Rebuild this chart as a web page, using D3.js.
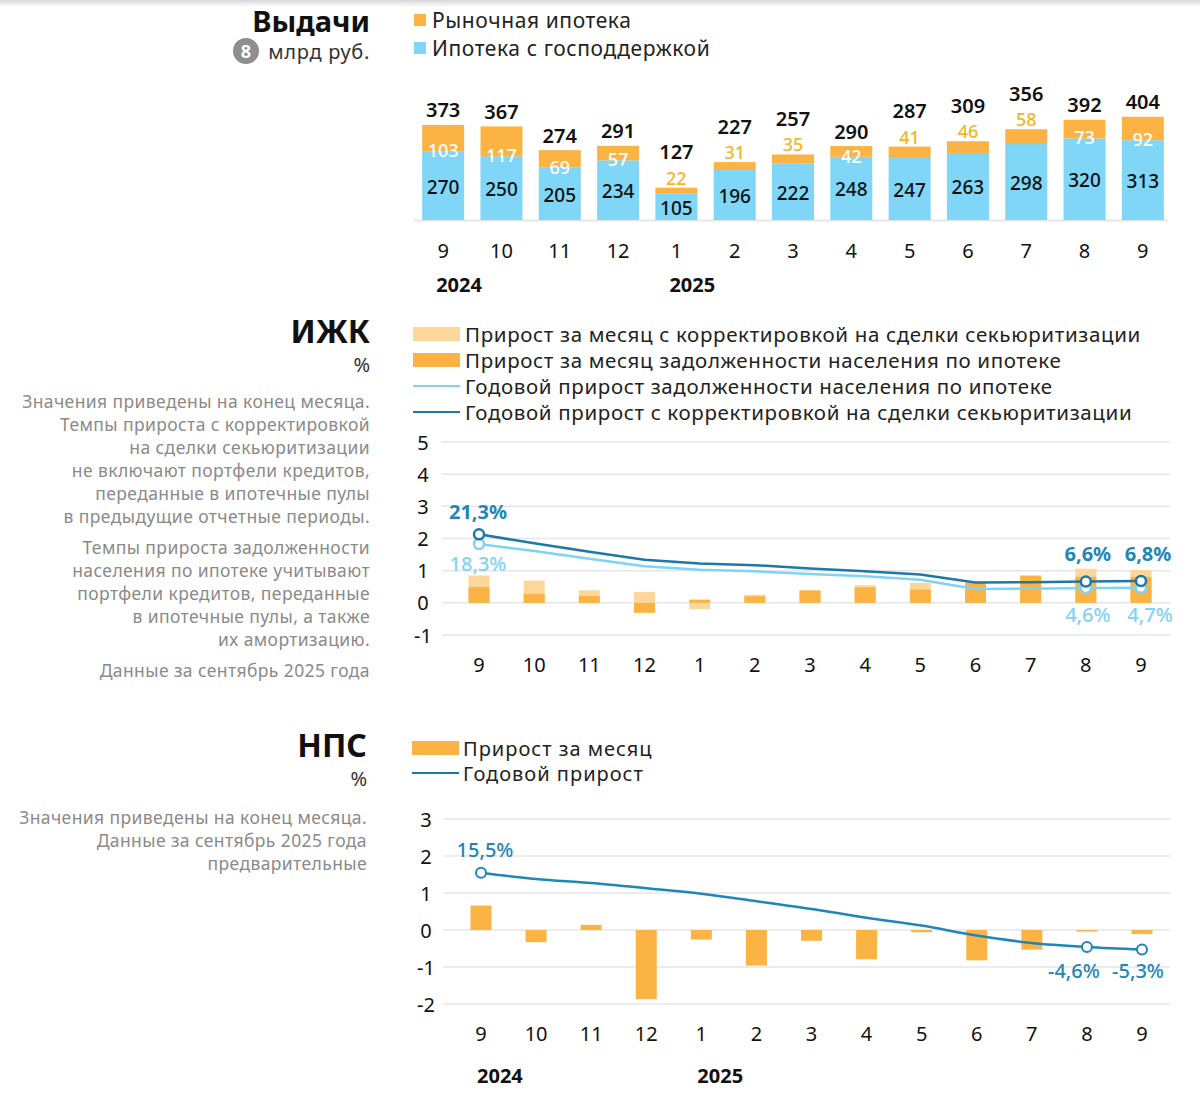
<!DOCTYPE html>
<html><head><meta charset="utf-8">
<script src="https://cdn.jsdelivr.net/npm/d3@7"></script>
<style>
html,body{margin:0;padding:0;background:#fff;}
svg{display:block;font-family:"Noto Sans","Open Sans",sans-serif;}
</style></head>
<body>
<svg id="c" width="1200" height="1097"></svg>
<script>
// ---------- DATA ----------
const months = ["9","10","11","12","1","2","3","4","5","6","7","8","9"];
const years = [{label:"2024", idx:0},{label:"2025", idx:4}];

// Выдачи, млрд руб.
const issueStateSupported = [270,250,205,234,105,196,222,248,247,263,298,320,313];
const issueMarket         = [103,117,69,57,22,31,35,42,41,46,58,73,92];
const issueTotal          = [373,367,274,291,127,227,257,290,287,309,356,392,404];

// ИЖК, %
const izhkMonthly     = [0.49,0.27,0.21,-0.31,0.10,0.20,0.38,0.48,0.41,0.64,0.85,0.81,0.81];
const izhkMonthlyAdj  = [0.85,0.69,0.39,0.34,-0.19,0.25,0.40,0.55,0.62,0.60,0.80,1.06,1.02];
const izhkAnnual      = [18.3,16.1,13.7,11.4,10.3,9.8,9.0,8.3,7.2,4.3,4.4,4.6,4.7];
const izhkAnnualAdj   = [21.3,18.5,15.9,13.4,12.2,11.7,10.7,9.8,8.8,6.3,6.4,6.6,6.8];
const izhkTicks = [5,4,3,2,1,0,-1];

// НПС, %
const npsMonthly = [0.66,-0.33,0.14,-1.87,-0.26,-0.96,-0.29,-0.79,-0.06,-0.82,-0.53,-0.04,-0.11];
const npsAnnual  = [15.5,13.8,12.7,11.3,9.8,7.8,5.7,3.3,1.2,-1.5,-3.5,-4.6,-5.3];
const npsTicks = [3,2,1,0,-1,-2];

// ---------- STYLE ----------
const ORANGE = "#fbb444", ORANGE_LIGHT = "#fdd79a", BLUE_BAR = "#7fd6f7";
const DARK_BLUE = "#1c78a8", LIGHT_BLUE = "#7fd3f3", LBL_BLUE = "#1f86b8";
const GRID = "#e6e6e6", GRAY_TXT = "#8a8a8a", BLACK = "#111";
const svg = d3.select("#c");
const fmt = v => d3.format(".1f")(v).replace(".", ",").replace("\u2212", "-") + "%";

// top shadow
const defs = svg.append("defs");
const g0 = defs.append("linearGradient").attr("id","sh").attr("x1",0).attr("x2",0).attr("y1",0).attr("y2",1);
g0.append("stop").attr("offset",0).attr("stop-color","#d8d8d8");
g0.append("stop").attr("offset",1).attr("stop-color","#ffffff");
svg.append("rect").attr("x",0).attr("y",0).attr("width",1200).attr("height",7).attr("fill","url(#sh)");

function rtext(x, y, t, size, opts={}) {
  return svg.append("text").attr("x",x).attr("y",y).attr("text-anchor",opts.anchor||"end")
    .attr("dominant-baseline","central").attr("font-size",size)
    .attr("letter-spacing",opts.ls||0)
    .attr("font-weight",opts.weight||400).attr("fill",opts.fill||BLACK).text(t);
}

// ================= ВЫДАЧИ =================
rtext(370, 20, "Выдачи", 29, {weight:700});
svg.append("circle").attr("cx",246).attr("cy",51).attr("r",13).attr("fill","#8e8e8e");
rtext(246, 51, "8", 18, {anchor:"middle", weight:700, fill:"#fff"});
rtext(370, 51, "млрд руб.", 20, {fill:"#333", ls:0.7});

// legend
[[ORANGE,"Рыночная ипотека",20],[BLUE_BAR,"Ипотека с господдержкой",48]].forEach(([c,t,y])=>{
  svg.append("rect").attr("x",414).attr("y",y-6).attr("width",12).attr("height",12).attr("fill",c);
  rtext(432, y, t, 21, {anchor:"start", fill:"#222", ls:0.6});
});

const x1 = d3.scaleBand().domain(d3.range(months.length)).range([414,1172]).paddingInner(0.28).paddingOuter(0.14);
const y1 = d3.scaleLinear().domain([0,404]).range([220,117]);
svg.append("line").attr("x1",414).attr("x2",1168).attr("y1",220.5).attr("y2",220.5).attr("stroke",GRID).attr("stroke-width",2);

const gI = svg.append("g");
months.forEach((m,i)=>{
  const x = x1(i), w = x1.bandwidth(), cx = x + w/2;
  const yB = y1(issueStateSupported[i]), yT = y1(issueStateSupported[i]+issueMarket[i]);
  gI.append("rect").attr("x",x).attr("y",yB).attr("width",w).attr("height",y1(0)-yB).attr("fill",BLUE_BAR);
  gI.append("rect").attr("x",x).attr("y",yT).attr("width",w).attr("height",yB-yT).attr("fill",ORANGE);
  gI.append("text").attr("x",cx).attr("y",(yB+y1(0))/2+1).attr("text-anchor","middle").attr("dominant-baseline","central")
    .attr("font-size",19).attr("font-weight",500).attr("fill",BLACK).text(issueStateSupported[i]);
});
// market labels: inside (white) for some, above (orange) for the rest
const insideIdx = new Set([0,1,2,3,7,11,12]);
months.forEach((m,i)=>{
  const x = x1(i), w = x1.bandwidth(), cx = x + w/2;
  const yB = y1(issueStateSupported[i]), yT = y1(issueStateSupported[i]+issueMarket[i]);
  let ly, col;
  if (insideIdx.has(i)) { ly = Math.max((yT+yB)/2, yB-1); col = "#fff"; }
  else { ly = yT - 10; col = "#f4b526"; }
  gI.append("text").attr("x",cx).attr("y",ly).attr("text-anchor","middle").attr("dominant-baseline","central")
    .attr("font-size",18).attr("font-weight",500).attr("fill",col).text(issueMarket[i]);
  const ty = insideIdx.has(i) ? yT - 15 : yT - 36;
  gI.append("text").attr("x",cx).attr("y",ty).attr("text-anchor","middle").attr("dominant-baseline","central")
    .attr("font-size",20).attr("font-weight",600).attr("fill",BLACK).text(issueTotal[i]);
  gI.append("text").attr("x",cx).attr("y",250).attr("text-anchor","middle").attr("dominant-baseline","central")
    .attr("font-size",20).attr("fill",BLACK).text(m);
});
years.forEach(yr=>{
  svg.append("text").attr("x",x1(yr.idx)+x1.bandwidth()/2-7).attr("y",284).attr("dominant-baseline","central")
    .attr("font-size",20).attr("font-weight",700).attr("fill",BLACK).text(yr.label);
});

// ================= ИЖК =================
rtext(370, 330, "ИЖК", 32, {weight:700});
rtext(370, 364, "%", 20, {fill:"#333"});
const izhkNote = [
  [401,"Значения приведены на конец месяца."],
  [424,"Темпы прироста с корректировкой"],
  [447,"на сделки секьюритизации"],
  [470,"не включают портфели кредитов,"],
  [493,"переданные в ипотечные пулы"],
  [516,"в предыдущие отчетные периоды."],
  [547,"Темпы прироста задолженности"],
  [570,"населения по ипотеке учитывают"],
  [593,"портфели кредитов, переданные"],
  [616,"в ипотечные пулы, а также"],
  [639,"их амортизацию."],
  [670,"Данные за сентябрь 2025 года"]];
izhkNote.forEach(([y,t])=>rtext(370,y,t,17.5,{fill:GRAY_TXT, ls:0.4}));

const izhkLegend = [
  ["rect",ORANGE_LIGHT,"Прирост за месяц с корректировкой на сделки секьюритизации",334],
  ["rect",ORANGE,"Прирост за месяц задолженности населения по ипотеке",360],
  ["line",LIGHT_BLUE,"Годовой прирост задолженности населения по ипотеке",386],
  ["line",DARK_BLUE,"Годовой прирост с корректировкой на сделки секьюритизации",412]];
izhkLegend.forEach(([k,c,t,y])=>{
  if(k==="rect") svg.append("rect").attr("x",413).attr("y",y-7).attr("width",47).attr("height",14).attr("fill",c);
  else svg.append("line").attr("x1",413).attr("x2",460).attr("y1",y).attr("y2",y).attr("stroke",c).attr("stroke-width",2);
  rtext(465, y, t, 20.5, {anchor:"start", fill:"#222", ls:0.65});
});

const x2 = d3.scalePoint().domain(d3.range(months.length)).range([479,1141]);
const y2 = d3.scaleLinear().domain([-1,5]).range([635,442]);
const g2 = svg.append("g");
izhkTicks.forEach(t=>{
  g2.append("line").attr("x1",442).attr("x2",1170).attr("y1",y2(t)).attr("y2",y2(t)).attr("stroke",GRID).attr("stroke-width",1.5);
  g2.append("text").attr("x",423).attr("y",y2(t)).attr("text-anchor","middle").attr("dominant-baseline","central")
    .attr("font-size",20).attr("fill",BLACK).text(t);
});
const bw2 = 21;
months.forEach((m,i)=>{
  const cx = x2(i);
  const a = izhkMonthlyAdj[i], b = izhkMonthly[i];
  g2.append("rect").attr("x",cx-bw2/2).attr("y",y2(Math.max(0,a))).attr("width",bw2).attr("height",Math.abs(y2(a)-y2(0))).attr("fill",ORANGE_LIGHT);
  g2.append("rect").attr("x",cx-bw2/2).attr("y",y2(Math.max(0,b))).attr("width",bw2).attr("height",Math.abs(y2(b)-y2(0))).attr("fill",ORANGE);
  g2.append("text").attr("x",cx).attr("y",664).attr("text-anchor","middle").attr("dominant-baseline","central")
    .attr("font-size",20).attr("fill",BLACK).text(m);
});
const line2 = d3.line().x((d,i)=>x2(i)).y(d=>y2(d/10));
[[izhkAnnual,LIGHT_BLUE],[izhkAnnualAdj,DARK_BLUE]].forEach(([arr,c])=>{
  g2.append("path").attr("d",line2(arr)).attr("fill","none").attr("stroke",c).attr("stroke-width",2.5);
});
[[izhkAnnual,LIGHT_BLUE],[izhkAnnualAdj,DARK_BLUE]].forEach(([arr,c])=>{
  [0,11,12].forEach(i=>{
    g2.append("circle").attr("cx",x2(i)).attr("cy",y2(arr[i]/10)).attr("r",5).attr("fill","#fff").attr("stroke",c).attr("stroke-width",2.5);
  });
});
// value labels
g2.append("text").attr("x",x2(0)-1).attr("y",511).attr("text-anchor","middle").attr("dominant-baseline","central")
  .attr("font-size",20).attr("font-weight",700).attr("fill",LBL_BLUE).text(fmt(izhkAnnualAdj[0]));
g2.append("text").attr("x",x2(0)-1).attr("y",563).attr("text-anchor","middle").attr("dominant-baseline","central")
  .attr("font-size",20).attr("font-weight",500).attr("fill",LIGHT_BLUE).text(fmt(izhkAnnual[0]));
[11,12].forEach(i=>{
  g2.append("text").attr("x",x2(i)+2+(i-11)*5).attr("y",553).attr("text-anchor","middle").attr("dominant-baseline","central")
    .attr("font-size",20).attr("font-weight",700).attr("fill",LBL_BLUE).text(fmt(izhkAnnualAdj[i]));
  g2.append("text").attr("x",x2(i)+2+(i-11)*7).attr("y",614).attr("text-anchor","middle").attr("dominant-baseline","central")
    .attr("font-size",20).attr("font-weight",500).attr("fill",LIGHT_BLUE).text(fmt(izhkAnnual[i]));
});

// ================= НПС =================
rtext(367, 744, "НПС", 32, {weight:700});
rtext(367, 778, "%", 20, {fill:"#333"});
[[817,"Значения приведены на конец месяца."],[840,"Данные за сентябрь 2025 года"],[863,"предварительные"]]
  .forEach(([y,t])=>rtext(367,y,t,17.5,{fill:GRAY_TXT, ls:0.4}));

svg.append("rect").attr("x",412).attr("y",741).attr("width",47).attr("height",14).attr("fill",ORANGE);
rtext(463, 748, "Прирост за месяц", 20, {anchor:"start", fill:"#222", ls:1.0});
svg.append("line").attr("x1",412).attr("x2",459).attr("y1",773).attr("y2",773).attr("stroke",DARK_BLUE).attr("stroke-width",2);
rtext(463, 773, "Годовой прирост", 20, {anchor:"start", fill:"#222", ls:1.0});

const x3 = d3.scalePoint().domain(d3.range(months.length)).range([481,1142]);
const y3 = d3.scaleLinear().domain([-2,3]).range([1004,819]);
const g3 = svg.append("g");
npsTicks.forEach(t=>{
  g3.append("line").attr("x1",443).attr("x2",1170).attr("y1",y3(t)).attr("y2",y3(t)).attr("stroke",GRID).attr("stroke-width",1.5);
  g3.append("text").attr("x",426).attr("y",y3(t)).attr("text-anchor","middle").attr("dominant-baseline","central")
    .attr("font-size",20).attr("fill",BLACK).text(t);
});
months.forEach((m,i)=>{
  const cx = x3(i), v = npsMonthly[i];
  g3.append("rect").attr("x",cx-bw2/2).attr("y",y3(Math.max(0,v))).attr("width",bw2).attr("height",Math.abs(y3(v)-y3(0))).attr("fill",ORANGE);
  g3.append("text").attr("x",cx).attr("y",1033).attr("text-anchor","middle").attr("dominant-baseline","central")
    .attr("font-size",20).attr("fill",BLACK).text(m);
});
const line3 = d3.line().x((d,i)=>x3(i)).y(d=>y3(d/10)).curve(d3.curveMonotoneX);
g3.append("path").attr("d",line3(npsAnnual)).attr("fill","none").attr("stroke",LBL_BLUE).attr("stroke-width",2.5);
[0,11,12].forEach(i=>{
  g3.append("circle").attr("cx",x3(i)).attr("cy",y3(npsAnnual[i]/10)).attr("r",5).attr("fill","#fff").attr("stroke",LBL_BLUE).attr("stroke-width",2);
});
g3.append("text").attr("x",x3(0)+4).attr("y",849).attr("text-anchor","middle").attr("dominant-baseline","central")
  .attr("font-size",20).attr("font-weight",500).attr("fill",LBL_BLUE).text(fmt(npsAnnual[0]));
[11,12].forEach(i=>{
  g3.append("text").attr("x",x3(i)-13+(i-11)*9).attr("y",970).attr("text-anchor","middle").attr("dominant-baseline","central")
    .attr("font-size",20).attr("font-weight",500).attr("fill",LBL_BLUE).text(fmt(npsAnnual[i]));
});
years.forEach(yr=>{
  svg.append("text").attr("x",x3(yr.idx)-4).attr("y",1075).attr("dominant-baseline","central")
    .attr("font-size",20).attr("font-weight",700).attr("fill",BLACK).text(yr.label);
});
</script>
</body></html>
